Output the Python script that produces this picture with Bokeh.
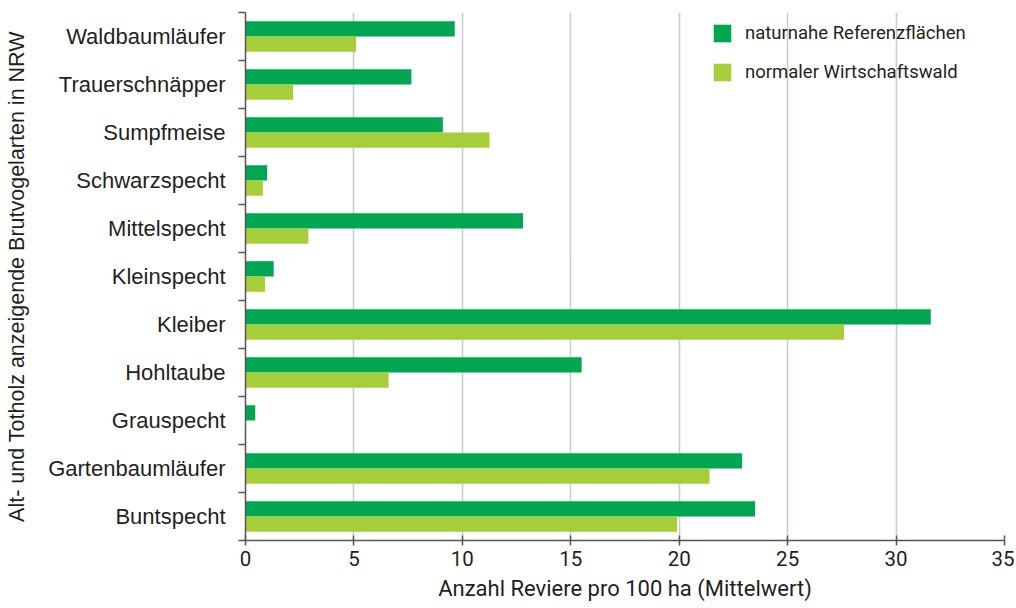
from bokeh.plotting import figure
from bokeh.models import (ColumnDataSource, LinearAxis, FixedTicker, Range1d,
                          Legend, LegendItem)
from bokeh.embed import file_html
from bokeh.resources import INLINE

# ---- data (top to bottom as shown) ----
species = ["Waldbaumläufer", "Trauerschnäpper", "Sumpfmeise", "Schwarzspecht",
           "Mittelspecht", "Kleinspecht", "Kleiber", "Hohltaube", "Grauspecht",
           "Gartenbaumläufer", "Buntspecht"]
naturnah = [9.65, 7.65, 9.1, 1.0, 12.8, 1.3, 31.6, 15.5, 0.45, 22.9, 23.5]
wirtschaft = [5.1, 2.2, 11.25, 0.8, 2.9, 0.9, 27.6, 6.6, 0.0, 21.4, 19.9]
x_ticks = [0, 5, 10, 15, 20, 25, 30, 35]
series_labels = ["naturnahe Referenzflächen", "normaler Wirtschaftswald"]
x_title = "Anzahl Reviere pro 100 ha (Mittelwert)"
y_title = "Alt- und Totholz anzeigende Brutvogelarten in NRW"

n = len(species)
pos = [n - i for i in range(n)]           # category centre positions
boundaries = [k + 0.5 for k in range(n + 1)]

DARK = "#00A651"
LIGHT = "#A6CE39"
TXT = "#231F20"
AX = "#555555"

src = ColumnDataSource(dict(
    y_top=[p_ + 0.16 for p_ in pos],
    y_bot=[p_ - 0.16 for p_ in pos],
    nat=naturnah, wir=wirtschaft, name=species))

p = figure(width=1014, height=608, output_backend="svg", toolbar_location=None,
           x_range=Range1d(0, 35), y_range=Range1d(0.5, n + 0.5),
           x_axis_location=None, y_axis_location=None,
           min_border_left=245, min_border_right=10, min_border_top=12,
           min_border_bottom=68)
p.outline_line_color = None
p.background_fill_color = "white"
p.border_fill_color = "white"

r1 = p.hbar(y="y_top", right="nat", left=0, height=0.32, source=src,
            fill_color=DARK, line_color=None)
r2 = p.hbar(y="y_bot", right="wir", left=0, height=0.32, source=src,
            fill_color=LIGHT, line_color=None)

# grid
p.ygrid.visible = False
p.xgrid.ticker = FixedTicker(ticks=x_ticks[1:])
p.xgrid.grid_line_color = "#C8CDCD"
p.xgrid.grid_line_width = 1.6

# x axis
xaxis = LinearAxis(ticker=FixedTicker(ticks=x_ticks))
xaxis.axis_label = x_title
xaxis.axis_label_text_font = "Roboto"
xaxis.axis_label_text_font_size = "22px"
xaxis.axis_label_text_font_style = "normal"
xaxis.axis_label_text_color = TXT
xaxis.axis_label_standoff = 7
xaxis.major_label_text_font = "Roboto"
xaxis.major_label_text_font_size = "20.5px"
xaxis.major_label_text_color = TXT
xaxis.major_label_standoff = 5
xaxis.major_tick_in = 5
xaxis.major_tick_out = 5
xaxis.major_tick_line_color = AX
xaxis.major_tick_line_width = 1.5
xaxis.minor_tick_line_color = None
xaxis.axis_line_color = AX
xaxis.axis_line_width = 1.5
p.add_layout(xaxis, "below")

# y axis: labels at centres, tick marks at category boundaries
yaxis = LinearAxis(ticker=FixedTicker(ticks=pos, minor_ticks=boundaries))
yaxis.major_label_overrides = {pp: s for pp, s in zip(pos, species)}
yaxis.major_tick_line_color = None
yaxis.major_tick_in = 0
yaxis.major_tick_out = 0
yaxis.minor_tick_in = 0
yaxis.minor_tick_out = 7
yaxis.minor_tick_line_color = AX
yaxis.minor_tick_line_width = 1.5
yaxis.axis_line_color = AX
yaxis.axis_line_width = 1.5
yaxis.major_label_standoff = 13
yaxis.major_label_text_font = "Liberation Sans"
yaxis.major_label_text_font_size = "22px"
yaxis.major_label_text_color = TXT
yaxis.axis_label = y_title
yaxis.axis_label_text_font = "Liberation Sans"
yaxis.axis_label_text_font_size = "21.5px"
yaxis.axis_label_text_font_style = "normal"
yaxis.axis_label_text_color = TXT
yaxis.axis_label_standoff = 16
p.add_layout(yaxis, "left")

legend = Legend(items=[LegendItem(label=series_labels[0], renderers=[r1]),
                       LegendItem(label=series_labels[1], renderers=[r2])],
                location=(466, 457))
legend.glyph_width = 22
legend.glyph_height = 22
legend.label_height = 22
legend.label_standoff = 12
legend.spacing = 17
legend.padding = 0
legend.margin = 0
legend.border_line_color = None
legend.background_fill_alpha = 0
legend.label_text_font = "Roboto"
legend.label_text_font_size = "18.5px"
legend.label_text_color = TXT
p.add_layout(legend, "center")

open("out.html", "w").write(file_html(p, INLINE))
